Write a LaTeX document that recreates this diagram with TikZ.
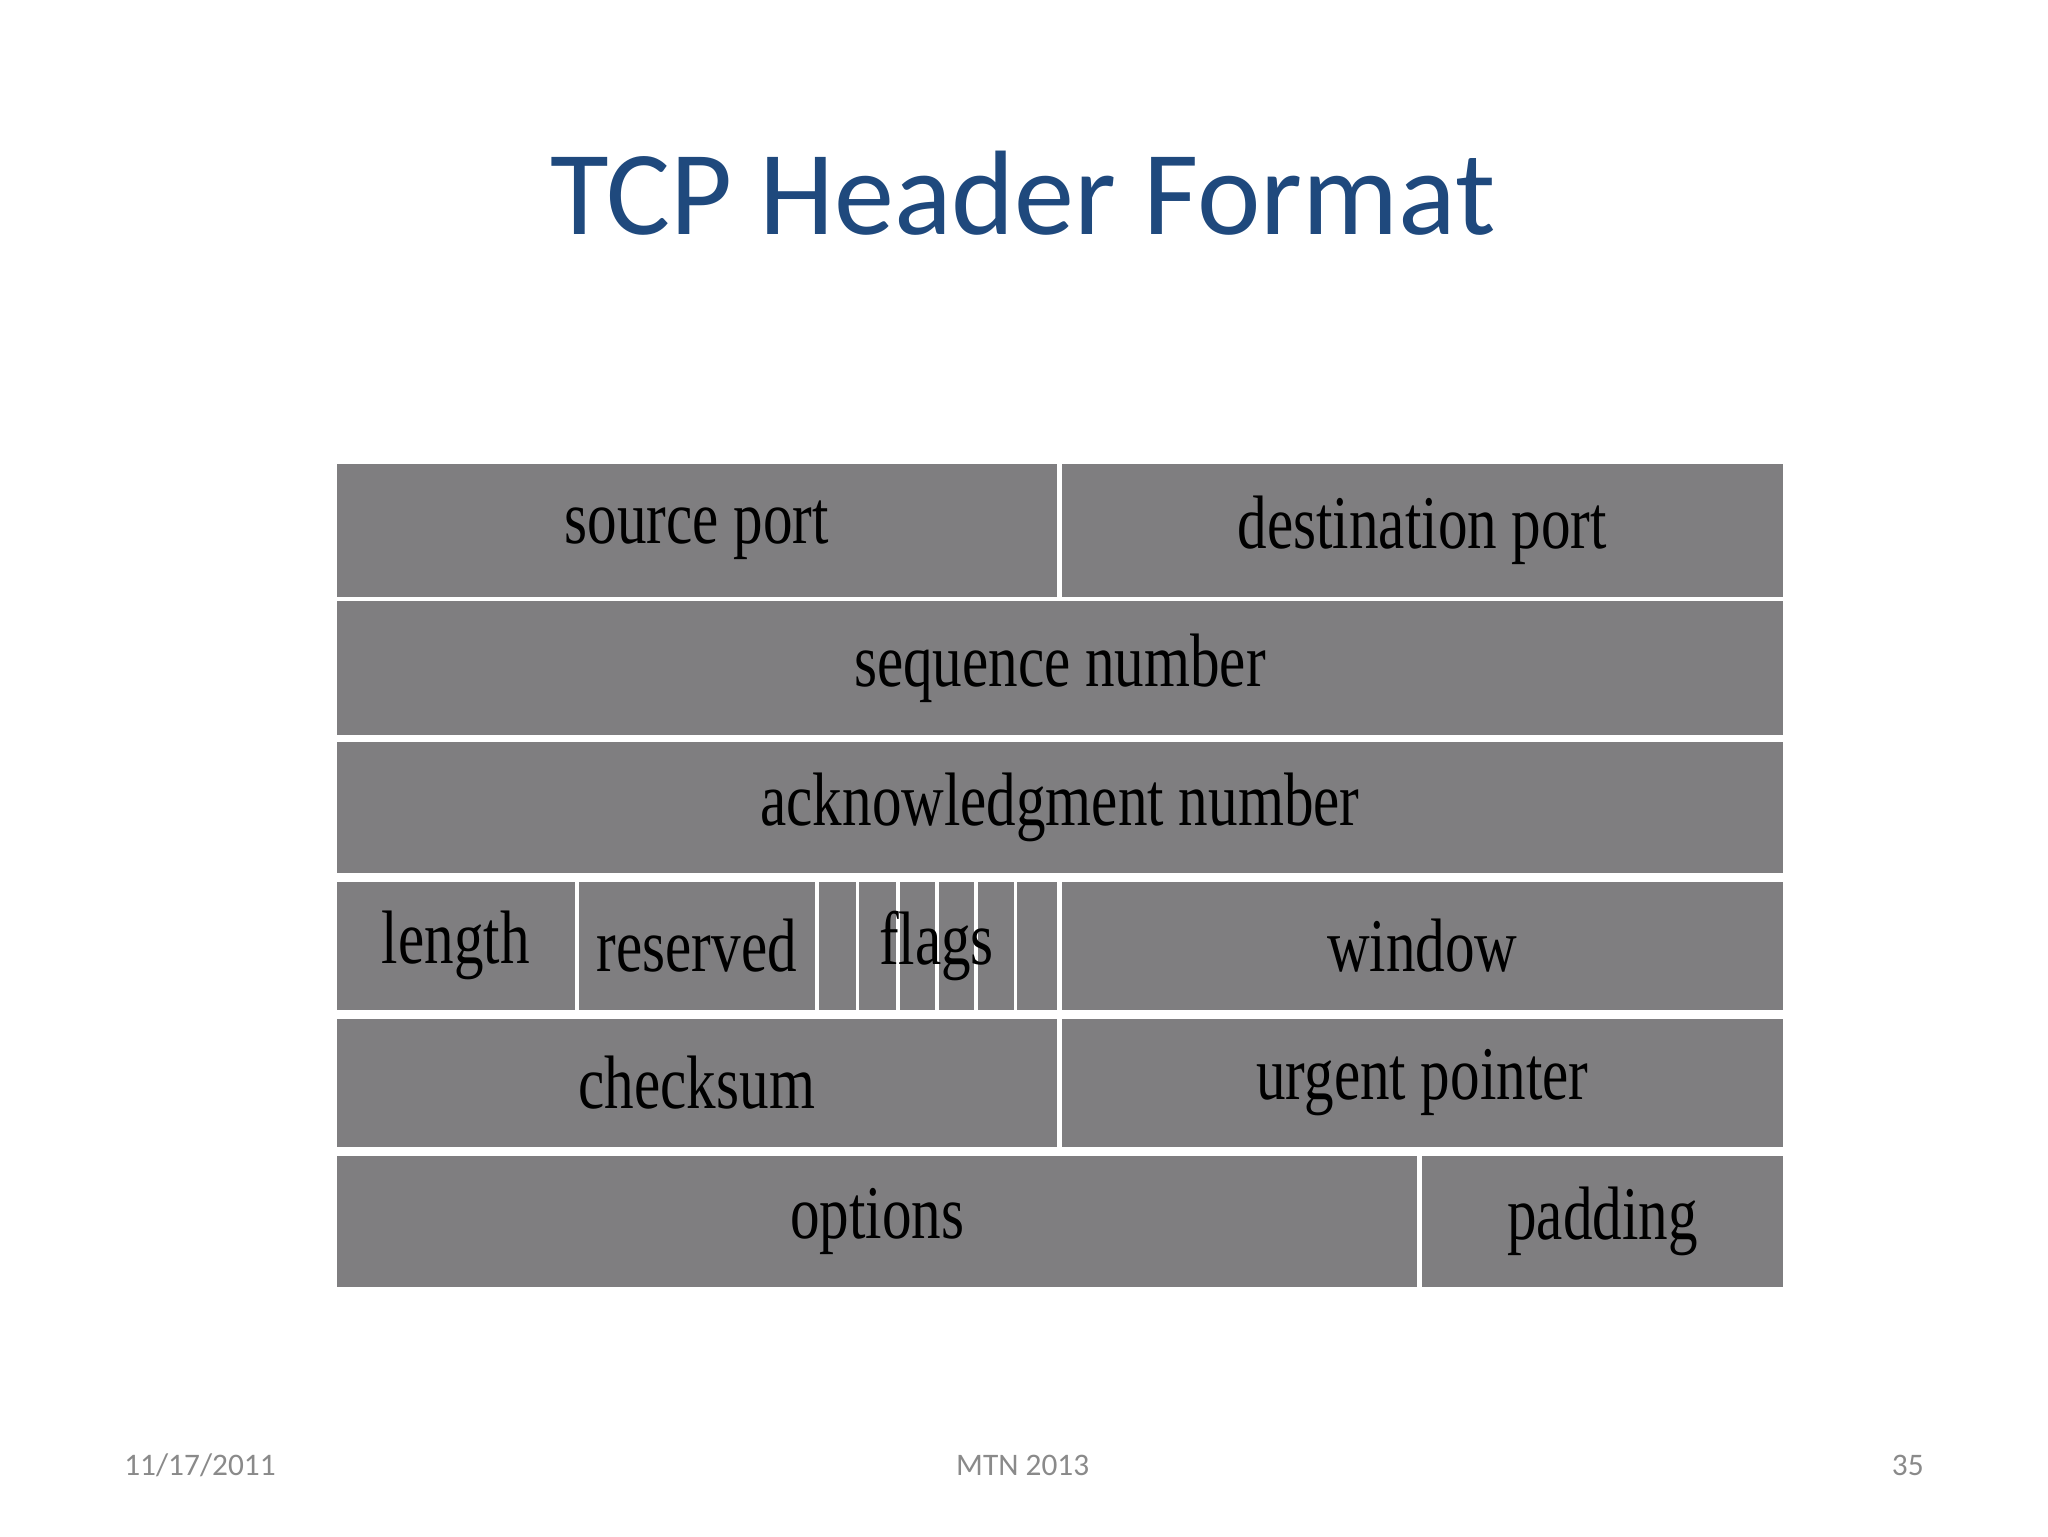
\documentclass[tikz,border=0pt]{standalone}
\usepackage{fontspec}
\setmainfont{Liberation Serif}
\newfontfamily\calib{Carlito}
\definecolor{cellgray}{HTML}{7F7E80}
\definecolor{titleblue}{HTML}{1F497D}
\definecolor{footgray}{HTML}{8A8A8A}
\newcommand{\lbl}[1]{\scalebox{0.78}[1]{\fontsize{58}{60}\selectfont #1}}
\begin{document}
\begin{tikzpicture}[x=1pt,y=-1pt,
  cell/.style={fill=cellgray,draw=none,inner sep=0pt,text=black},
  foot/.style={text=footgray,font=\calib\fontsize{24}{26}\selectfont,inner sep=0pt}]
\useasboundingbox[fill=white] (0,0) rectangle (1568,1176);
\node[text=titleblue,font=\calib\fontsize{92}{96}\selectfont] (title) at (783,148) {TCP Header Format};
% row 1
\node[cell,minimum width=551,minimum height=102] (sp) at (533.5,406) {\lbl{source port}};
\node[cell,minimum width=552,minimum height=102] (dp) at (1089,406) {\lbl{destination port}};
% row 2
\node[cell,minimum width=1107,minimum height=103] (seq) at (811.5,511.5) {\lbl{sequence number}};
% row 3
\node[cell,minimum width=1107,minimum height=100] (ack) at (811.5,618) {\lbl{acknowledgment number}};
% row 4
\node[cell,minimum width=182,minimum height=98] (len) at (349,724) {\lbl{length}};
\node[cell,minimum width=181,minimum height=98] (res) at (533.5,724) {\lbl{reserved}};
\node[cell,minimum width=28,minimum height=98] (f1) at (641,724) {};
\node[cell,minimum width=28,minimum height=98] (f2) at (672,724) {};
\node[cell,minimum width=27,minimum height=98] (f3) at (702.5,724) {};
\node[cell,minimum width=27,minimum height=98] (f4) at (732.5,724) {};
\node[cell,minimum width=27,minimum height=98] (f5) at (762.5,724) {};
\node[cell,minimum width=30,minimum height=98] (f6) at (794,724) {};
\node[inner sep=0pt] (flags) at (717,724) {\lbl{flags}};
\node[cell,minimum width=552,minimum height=98] (win) at (1089,724) {\lbl{window}};
% row 5
\node[cell,minimum width=551,minimum height=98] (chk) at (533.5,829) {\lbl{checksum}};
\node[cell,minimum width=552,minimum height=98] (urg) at (1089,829) {\lbl{urgent pointer}};
% row 6
\node[cell,minimum width=827,minimum height=100] (opt) at (671.5,935) {\lbl{options}};
\node[cell,minimum width=276,minimum height=100] (pad) at (1227,935) {\lbl{padding}};
% footer
\node[foot,anchor=west] (date) at (95,1122) {11/17/2011};
\node[foot] (mtn) at (783,1122) {MTN 2013};
\node[foot,anchor=east] (pg) at (1473,1122) {35};
\end{tikzpicture}
\end{document}
